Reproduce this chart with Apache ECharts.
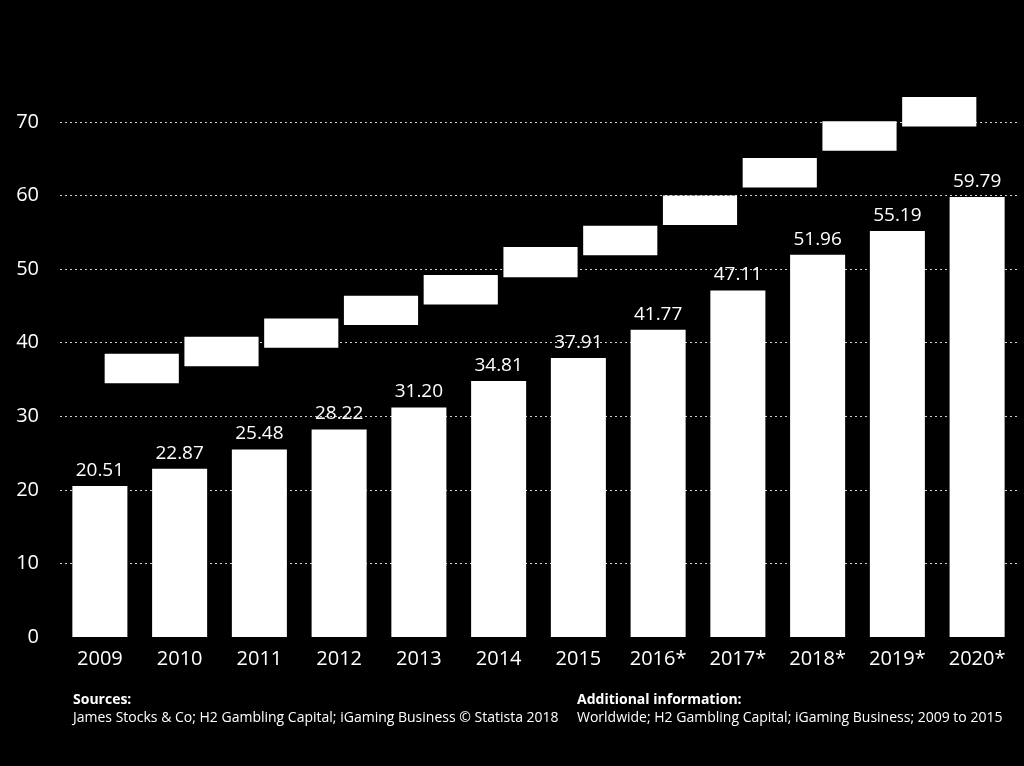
<!DOCTYPE html>
<html>
<head>
<meta charset="utf-8">
<style>
  html, body { margin: 0; padding: 0; background: #000; }
  #chart { width: 1024px; height: 766px; }
</style>
<script src="https://cdn.jsdelivr.net/npm/echarts@6/dist/echarts.min.js"></script>
</head>
<body>
<div id="chart"></div>
<script>
// Categories (years)
const years = ['2009', '2010', '2011', '2012', '2013', '2014', '2015', '2016*', '2017*', '2018*', '2019*', '2020*'];
// Bar values
const values = [20.51, 22.87, 25.48, 28.22, 31.20, 34.81, 37.91, 41.77, 47.11, 51.96, 55.19, 59.79];
// Floating white boxes between neighbouring bars (index of left bar, bottom, top)
const boxIndex = [0, 1, 2, 3, 4, 5, 6, 7, 8, 9, 10];
const boxLow  = [34.5, 36.8, 39.3, 42.4, 45.2, 48.9, 51.9, 56.0, 61.1, 66.1, 69.4];
const boxHigh = [38.5, 40.8, 43.3, 46.4, 49.2, 53.0, 55.9, 60.0, 65.1, 70.1, 73.4];
// Y-axis ticks
const yMin = 0, yMax = 70, yStep = 10;

const FONT = '"Open Sans", "DejaVu Sans", sans-serif';

const chart = echarts.init(document.getElementById('chart'));
chart.setOption({
  backgroundColor: '#000000',
  animation: false,
  grid: { left: 60, right: 7, top: 122, bottom: 129, containLabel: false },
  xAxis: {
    type: 'category',
    data: years,
    axisLine: { show: false },
    axisTick: { show: false },
    axisLabel: { color: '#ffffff', fontSize: 20, fontFamily: FONT, margin: 12 }
  },
  yAxis: {
    type: 'value',
    min: yMin, max: yMax, interval: yStep,
    axisLine: { show: false },
    axisTick: { show: false },
    axisLabel: { color: '#ffffff', fontSize: 20, fontFamily: FONT, margin: 21 },
    splitLine: {
      show: true,
      lineStyle: { color: '#d0d0d0', width: 1, type: [2, 3] },
      showMinLine: false
    }
  },
  series: [
    {
      type: 'bar',
      data: values,
      barCategoryGap: '31%',
      itemStyle: { color: '#ffffff' },
      label: {
        show: true,
        position: 'top',
        distance: 6,
        color: '#ffffff',
        fontSize: 19,
        fontFamily: FONT,
        formatter: p => p.value.toFixed(2)
      },
      z: 2
    },
    {
      type: 'custom',
      clip: false,
      data: boxIndex.map((i, k) => [i, boxLow[k], boxHigh[k]]),
      encode: { x: 0, y: [1, 2] },
      renderItem: function (params, api) {
        const i = api.value(0);
        const lo = api.coord([i, api.value(1)]);
        const hi = api.coord([i + 1, api.value(2)]);
        const band = api.size([1, 0])[0];
        const w = band * 0.93;
        const cx = (lo[0] + hi[0]) / 2 + 2;
        return {
          type: 'rect',
          shape: { x: cx - w / 2, y: hi[1], width: w, height: lo[1] - hi[1] },
          style: { fill: '#ffffff' }
        };
      },
      z: 3
    }
  ],
  graphic: [
    { type: 'text', left: 73, top: 693, style: { text: 'Sources:', fill: '#ffffff', font: 'bold 14px ' + FONT } },
    { type: 'text', left: 73, top: 711, style: { text: 'James Stocks & Co; H2 Gambling Capital; iGaming Business © Statista 2018', fill: '#ffffff', font: '14px ' + FONT } },
    { type: 'text', left: 577, top: 693, style: { text: 'Additional information:', fill: '#ffffff', font: 'bold 14px ' + FONT } },
    { type: 'text', left: 577, top: 711, style: { text: 'Worldwide; H2 Gambling Capital; iGaming Business; 2009 to 2015', fill: '#ffffff', font: '14px ' + FONT } }
  ]
});
</script>
</body>
</html>
